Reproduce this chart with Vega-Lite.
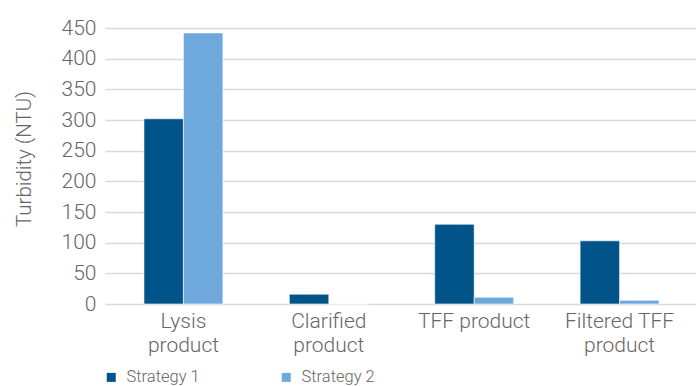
{
  "$schema": "https://vega.github.io/schema/vega-lite/v6.json",
  "autosize": "none",
  "width": 593,
  "height": 276,
  "padding": {"left": 105, "top": 28, "right": 0, "bottom": 82},
  "background": "white",
  "data": {
    "values": [
      {"stage": "Lysis product", "strategy": "Strategy 1", "turbidity": 302},
      {"stage": "Lysis product", "strategy": "Strategy 2", "turbidity": 442},
      {"stage": "Clarified product", "strategy": "Strategy 1", "turbidity": 16},
      {"stage": "Clarified product", "strategy": "Strategy 2", "turbidity": 0},
      {"stage": "TFF product", "strategy": "Strategy 1", "turbidity": 130},
      {"stage": "TFF product", "strategy": "Strategy 2", "turbidity": 11},
      {"stage": "Filtered TFF product", "strategy": "Strategy 1", "turbidity": 103},
      {"stage": "Filtered TFF product", "strategy": "Strategy 2", "turbidity": 6}
    ]
  },
  "config": {
    "view": {"stroke": null},
    "font": "Roboto",
    "axis": {
      "labelColor": "#666666",
      "titleColor": "#666666",
      "labelFont": "Roboto",
      "titleFont": "Roboto",
      "labelFontWeight": 300,
      "titleFontWeight": 300
    }
  },
  "mark": {"type": "bar", "stroke": "white", "strokeWidth": 0.6},
  "encoding": {
    "x": {
      "field": "stage",
      "type": "nominal",
      "sort": ["Lysis product", "Clarified product", "TFF product", "Filtered TFF product"],
      "scale": {"paddingInner": 0.457, "paddingOuter": 0.268},
      "axis": {
        "title": null,
        "labelAngle": 0,
        "labelFontSize": 21,
        "labelLineHeight": 24,
        "labelPadding": 6,
        "labelBaseline": "top",
        "ticks": false,
        "domain": false,
        "labelExpr": "datum.value == 'Lysis product' ? ['Lysis', 'product'] : datum.value == 'Clarified product' ? ['Clarified', 'product'] : datum.value == 'Filtered TFF product' ? ['Filtered TFF', 'product'] : datum.value"
      }
    },
    "xOffset": {
      "field": "strategy",
      "type": "nominal",
      "scale": {"paddingInner": 0, "paddingOuter": 0}
    },
    "y": {
      "field": "turbidity",
      "type": "quantitative",
      "scale": {"domain": [0, 450], "nice": false},
      "axis": {
        "title": "Turbidity (NTU)",
        "titleFontSize": 20.5,
        "titlePadding": 27,
        "titleY": 130.5,
        "values": [0, 50, 100, 150, 200, 250, 300, 350, 400, 450],
        "labelFontSize": 21,
        "labelPadding": 9,
        "ticks": false,
        "domain": false,
        "grid": true,
        "gridColor": "#d9d9d9",
        "gridWidth": 1.5
      }
    },
    "color": {
      "field": "strategy",
      "type": "nominal",
      "scale": {"domain": ["Strategy 1", "Strategy 2"], "range": ["#00548a", "#6fa8dc"]},
      "legend": {
        "title": null,
        "orient": "none",
        "direction": "horizontal",
        "legendX": -2,
        "legendY": 341,
        "symbolType": "square",
        "symbolSize": 81,
        "symbolStrokeWidth": 0,
        "labelFont": "Roboto",
        "labelFontWeight": 300,
        "labelFontSize": 16.5,
        "labelColor": "#666666",
        "labelOffset": 7,
        "columnPadding": 78
      }
    }
  }
}
